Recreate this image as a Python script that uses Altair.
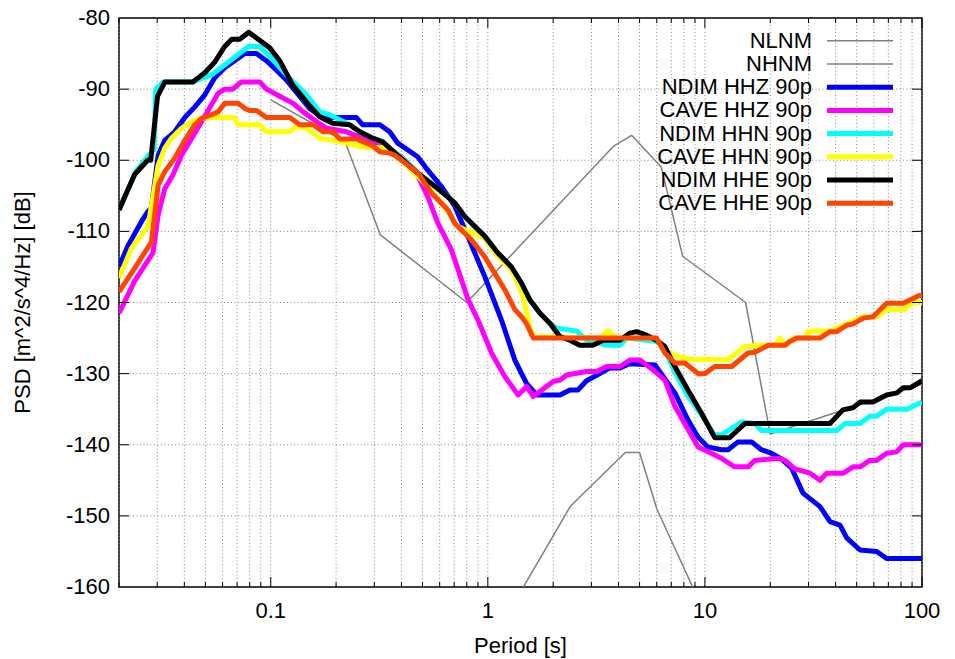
import altair as alt
import pandas as pd

# ---------------- data (period [s], PSD [dB]) ----------------
NLNM_T = [1.24, 2.4, 4.3, 5.0, 6.0, 10.0]
NLNM_DB = [-163.7, -148.65, -141.1, -141.1, -149.0, -163.75]

NHNM_T = [0.1, 0.22, 0.32, 0.8, 3.8, 4.6, 6.3, 7.9, 15.4, 20.0, 100.0]
NHNM_DB = [-91.5, -97.4, -110.5, -120.0, -98.0, -96.5, -101.0, -113.5, -120.0, -138.5, -131.5]

NDIM_HHZ_T = [0.02, 0.022, 0.0254, 0.0272, 0.0282, 0.0303, 0.0325, 0.0361, 0.0402, 0.0447,
              0.0497, 0.0552, 0.0614, 0.0682, 0.0759, 0.0859, 0.0955, 0.106, 0.118, 0.151,
              0.174, 0.248, 0.265, 0.318, 0.353, 0.385, 0.475, 0.529, 0.612, 0.705,
              0.809, 0.969, 1.157, 1.332, 1.43, 1.51, 1.68, 2.15, 2.39, 2.6,
              2.85, 3.28, 3.65, 4.06, 4.5, 5.9, 7.27, 8.35, 9.29, 10.3,
              11.9, 12.8, 14.2, 16.4, 18.2, 20.3, 22.5, 25.1, 28.3, 33.9,
              37.7, 41.9, 45.0, 51.8, 61.8, 68.7, 100.0]
NDIM_HHZ_DB = [-115, -112, -108.6, -107.2, -106.7, -99.3, -97.2, -96, -94, -92.5,
               -90.8, -88.4, -87, -86, -85, -85, -86, -87.3, -88.7, -92.7,
               -94, -94, -95, -95, -96, -97.6, -99.5, -101.4, -103.7, -106.5,
               -110.7, -116.4, -122.5, -128.1, -130, -131.4, -133, -133, -132.3, -132.3,
               -131, -130, -129.2, -129.2, -128.6, -128.8, -132.7, -136.5, -138.9, -140.3,
               -140.7, -140.7, -139.6, -139.6, -140.7, -141.2, -142, -143.3, -146.8, -148.7,
               -150.8, -151.3, -153.1, -154.8, -155, -156, -156]

CAVE_HHZ_T = [0.02, 0.0236, 0.0287, 0.0303, 0.0325, 0.0355, 0.0388, 0.0431, 0.048, 0.0533,
              0.0572, 0.0614, 0.0668, 0.0732, 0.089, 0.0955, 0.110, 0.127, 0.141, 0.163,
              0.181, 0.223, 0.30, 0.40, 0.461, 0.529, 0.588, 0.680, 0.811, 0.902,
              1.04, 1.197, 1.379, 1.51, 1.618, 2.0, 2.15, 2.31, 2.85, 3.17,
              3.52, 4.06, 4.51, 5.02, 5.78, 6.54, 7.27, 8.38, 9.31, 10.7,
              11.9, 13.7, 15.8, 17.0, 21.8, 23.4, 26.0, 30.5, 33.9, 36.4,
              43.4, 48.2, 51.8, 57.5, 61.8, 68.7, 76.4, 82.0, 100.0]
CAVE_HHZ_DB = [-121.5, -117, -113, -107.7, -104, -102, -99.3, -97, -94.6, -92.2,
               -90.6, -90, -90, -89, -89, -90, -91, -92, -93.2, -94.6,
               -95.5, -96, -97.5, -99.5, -101.4, -105.1, -108.8, -112.6, -119.6, -122.5,
               -127.1, -130.4, -133, -131.8, -133.2, -131.1, -130.9, -130.2, -129.7, -129.7,
               -129, -129, -128.1, -128.1, -129.5, -130.9, -134.6, -137.9, -140.3, -141.2,
               -141.9, -143.1, -143.1, -142.2, -141.9, -142.2, -143.4, -144, -145, -144,
               -144, -143.1, -143.1, -142.2, -142.2, -141.2, -141, -140, -140]

NDIM_HHN_T = [0.02, 0.024, 0.027, 0.029, 0.0295, 0.032, 0.044, 0.0461, 0.0533, 0.065,
              0.079, 0.089, 0.099, 0.118, 0.146, 0.168, 0.187, 0.231, 0.257, 0.295,
              0.328, 0.353, 0.415, 0.475, 0.612, 0.705, 0.783, 0.969, 1.11, 1.285,
              1.43, 1.56, 1.74, 1.93, 2.07, 2.56, 2.85, 3.52, 4.06, 4.36,
              6.0, 6.5, 7.2, 8.2, 10.0, 11.0, 11.9, 14.8, 17.0, 18.2,
              40.5, 44.2, 51.8, 57.5, 61.8, 68.7, 85.0, 100.0]
NDIM_HHN_DB = [-107, -101.5, -99.5, -98.5, -90, -89, -89, -88.7, -88, -86,
               -84, -84, -85.4, -88, -90.8, -93.2, -93.6, -95, -96, -96.9,
               -97.4, -98.3, -100, -101.8, -104.4, -106, -107.9, -110.7, -113, -115,
               -117.3, -119.6, -121.5, -122.9, -123.6, -124, -125.3, -126, -126, -125,
               -125.5, -126.5, -129.5, -132.8, -136.5, -138.6, -138.6, -136.8, -137, -138,
               -138, -137, -137, -136, -136, -135, -135, -134]

CAVE_HHN_T = [0.02, 0.0228, 0.0272, 0.0303, 0.0325, 0.0349, 0.0388, 0.0431, 0.048, 0.0533,
              0.0682, 0.0707, 0.089, 0.0955, 0.1224, 0.131, 0.146, 0.168, 0.194, 0.276,
              0.33, 0.40, 0.53, 0.68, 0.725, 0.97, 1.11, 1.29, 1.45, 1.56,
              1.62, 3.3, 3.58, 3.9, 5.98, 6.54, 7.53, 8.69, 12.8, 15.3,
              17.6, 21.0, 22.2, 23.4, 25.5, 29.0, 30.0, 33.9, 37.7, 45.0,
              53.6, 62.0, 68.7, 82.0, 91.0, 100.0]
CAVE_HHN_DB = [-116.6, -112.4, -109.3, -100.7, -98.3, -96.9, -95.5, -94.6, -94.1, -94,
               -94, -95, -95, -96, -96, -95.3, -95.5, -96.9, -97.2, -98.2,
               -98.2, -100, -103.7, -107.9, -109.3, -111, -113.5, -115.5, -119, -123.4,
               -124.8, -125, -124, -125, -125, -126.7, -127.6, -128, -128, -126.2,
               -126, -126, -125, -126, -125, -125, -124, -124, -124, -123,
               -122, -122, -121, -121, -120, -120]

NDIM_HHE_T = [0.02, 0.0236, 0.0271, 0.028, 0.0301, 0.0325, 0.0437, 0.0497, 0.0552, 0.0614,
              0.0661, 0.0719, 0.0792, 0.099, 0.110, 0.126, 0.146, 0.168, 0.193, 0.231,
              0.257, 0.295, 0.328, 0.353, 0.475, 0.612, 0.705, 0.783, 0.969, 1.11,
              1.285, 1.43, 1.56, 1.74, 1.93, 2.15, 2.39, 2.65, 3.05, 3.39,
              4.06, 4.51, 4.84, 5.38, 5.98, 6.54, 7.27, 8.35, 9.66, 11.1,
              13.0, 15.3, 37.7, 43.2, 48.1, 51.8, 59.4, 68.7, 76.7, 81.7,
              88.1, 100.0]
NDIM_HHE_DB = [-107, -102, -100, -100, -91, -89, -89, -87.7, -86.2, -84,
               -83, -83, -82, -84.2, -86, -89.4, -91.8, -93.9, -94.8, -95,
               -96, -96.9, -97.4, -98.3, -101.8, -104.4, -106, -107.9, -110.7, -113,
               -115, -117.3, -119.6, -121.5, -122.9, -124.8, -125.3, -126, -126, -125.3,
               -125.3, -124.3, -124.1, -124.6, -125.3, -126.2, -129, -132.3, -135.6, -139,
               -139, -137, -137, -135.1, -134.8, -134, -134, -133, -132.7, -132,
               -132, -131]

CAVE_HHE_T = [0.02, 0.0236, 0.0282, 0.0303, 0.0325, 0.0361, 0.0402, 0.0447, 0.048, 0.0533,
              0.0572, 0.0614, 0.0707, 0.0759, 0.080, 0.0859, 0.0955, 0.1224, 0.136, 0.157,
              0.174, 0.194, 0.208, 0.248, 0.296, 0.318, 0.353, 0.373, 0.478, 0.550,
              0.656, 0.705, 0.841, 0.969, 1.077, 1.197, 1.332, 1.43, 1.51, 1.618,
              5.98, 6.54, 7.27, 8.09, 9.31, 10.0, 11.1, 13.3, 15.8, 17.0,
              19.6, 23.4, 24.6, 26.5, 33.9, 37.7, 40.5, 45.0, 48.2, 53.6,
              59.6, 68.7, 82.0, 97.0, 100.0]
CAVE_HHE_DB = [-118.5, -115.2, -111.5, -103.5, -101.6, -99.7, -97.2, -95, -94.1, -93.6,
               -93.2, -92, -92, -92.7, -93, -93, -94, -94, -95, -95,
               -96, -96, -97, -97, -98, -98.8, -99, -99.3, -101.8, -104.6,
               -107, -108.9, -111.2, -113.6, -115.9, -118.2, -121, -122, -123, -125,
               -125, -127.1, -128.5, -128.5, -130, -130, -129, -129, -127.1, -127,
               -126, -126, -125.5, -125, -125, -124.1, -124.1, -123.2, -123, -122.2,
               -122, -120.1, -120.1, -119, -119]

SERIES_NAMES = ["NDIM HHZ 90p", "CAVE HHZ 90p", "NDIM HHN 90p",
                "CAVE HHN 90p", "NDIM HHE 90p", "CAVE HHE 90p"]
SERIES_T = [NDIM_HHZ_T, CAVE_HHZ_T, NDIM_HHN_T, CAVE_HHN_T, NDIM_HHE_T, CAVE_HHE_T]
SERIES_DB = [NDIM_HHZ_DB, CAVE_HHZ_DB, NDIM_HHN_DB, CAVE_HHN_DB, NDIM_HHE_DB, CAVE_HHE_DB]
MODEL_NAMES = ["NLNM", "NHNM"]

X_MAJOR = [0.1, 1, 10, 100]
X_LABELS = ["0.1", "1", "10", "100"]
X_MINOR = [0.02, 0.03, 0.04, 0.05, 0.06, 0.07, 0.08, 0.09,
           0.2, 0.3, 0.4, 0.5, 0.6, 0.7, 0.8, 0.9,
           2, 3, 4, 5, 6, 7, 8, 9,
           20, 30, 40, 50, 60, 70, 80, 90]
Y_TICKS = [-160, -150, -140, -130, -120, -110, -100, -90, -80]
Y_LABELS = ["-160", "-150", "-140", "-130", "-120", "-110", "-100", "-90", "-80"]
X_TITLE = "Period [s]"
Y_TITLE = "PSD [m^2/s^4/Hz] [dB]"

# ---------------- styles ----------------
COLORS = ["#0000ff", "#ff00ff", "#00ffff", "#ffff00", "#000000", "#ff4500"]
GREY = "#808080"
GRID = "#8a8a8a"
FONT = "Liberation Sans"
FS = 22
W, H = 803, 569

x_scale = alt.Scale(type="log", domain=[0.02, 100], nice=False)
y_scale = alt.Scale(domain=[-160, -80], nice=False, zero=False)


def X(field):
    return alt.X(field, scale=x_scale, axis=None)


def Y(field):
    return alt.Y(field, scale=y_scale, axis=None)


layers = []

# ---- dotted grid (behind everything) ----
xgrid_df = pd.DataFrame({"T": sorted(X_MINOR + X_MAJOR)})
ygrid_df = pd.DataFrame({"v": Y_TICKS[1:-1]})
layers.append(alt.Chart(xgrid_df).mark_rule(color=GRID, strokeWidth=1, strokeDash=[1, 2.5]).encode(
    x=X("T:Q"), y=alt.value(0), y2=alt.value(H)))
layers.append(alt.Chart(ygrid_df).mark_rule(color=GRID, strokeWidth=1, strokeDash=[1, 2.5]).encode(
    y=Y("v:Q"), x=alt.value(0), x2=alt.value(W)))


# ---- data lines ----
def line_layer(ts, dbs, color, width):
    df = pd.DataFrame({"T": ts, "dB": dbs})
    return alt.Chart(df).mark_line(color=color, strokeWidth=width, clip=True,
                                   strokeJoin="round").encode(x=X("T:Q"), y=Y("dB:Q"))


layers += [line_layer(NLNM_T, NLNM_DB, GREY, 1.5), line_layer(NHNM_T, NHNM_DB, GREY, 1.5)]
for ts, dbs, col in zip(SERIES_T, SERIES_DB, COLORS):
    layers.append(line_layer(ts, dbs, col, 5))

# ---- inward tick marks on all four sides ----
xmaj = pd.DataFrame({"T": X_MAJOR, "lab": X_LABELS})
xmin = pd.DataFrame({"T": X_MINOR})
ytk = pd.DataFrame({"v": Y_TICKS, "lab": Y_LABELS})


def xtick(df, y0, y1):
    return alt.Chart(df).mark_rule(color="black", strokeWidth=1).encode(
        x=X("T:Q"), y=alt.value(y0), y2=alt.value(y1))


def ytick(x0, x1):
    return alt.Chart(ygrid_df).mark_rule(color="black", strokeWidth=1).encode(
        y=Y("v:Q"), x=alt.value(x0), x2=alt.value(x1))


layers += [xtick(xmaj, H, H - 10), xtick(xmin, H, H - 5),
           xtick(xmaj, 0, 10), xtick(xmin, 0, 5),
           ytick(0, 10), ytick(W, W - 10)]

# ---- tick labels and axis titles ----
layers.append(alt.Chart(xmaj).mark_text(font=FONT, fontSize=FS, color="black", align="center",
                                        baseline="alphabetic").encode(
    x=X("T:Q"), y=alt.value(H + 31), text="lab:N"))
layers.append(alt.Chart(ytk).mark_text(font=FONT, fontSize=FS, color="black", align="right",
                                       baseline="middle").encode(
    y=Y("v:Q"), x=alt.value(-9), text="lab:N"))
titles_df = pd.DataFrame({"t": [X_TITLE]})
layers.append(alt.Chart(titles_df).mark_text(font=FONT, fontSize=FS, color="black", align="center",
                                             baseline="alphabetic").encode(
    x=alt.value(W / 2), y=alt.value(H + 66), text="t:N"))
ytitle_df = pd.DataFrame({"t": [Y_TITLE]})
layers.append(alt.Chart(ytitle_df).mark_text(font=FONT, fontSize=FS, color="black", align="center",
                                             baseline="alphabetic", angle=270).encode(
    x=alt.value(-89), y=alt.value(H / 2), text="t:N"))

# ---------------- legend (inside, top right) ----------------
legend_df = pd.DataFrame({"name": MODEL_NAMES + SERIES_NAMES,
                          "idx": list(range(len(MODEL_NAMES) + len(SERIES_NAMES)))})
LEG_TOP, LEG_STEP = 22.7, 23.23
ly = alt.Y("py:Q", scale=None, axis=None)
leg_base = alt.Chart(legend_df).transform_calculate(py=f"{LEG_TOP} + {LEG_STEP} * datum.idx")
leg_text = leg_base.mark_text(align="right", baseline="middle", font=FONT,
                              fontSize=FS, color="black").encode(
    x=alt.value(693), y=ly, text="name:N")
leg_grey = leg_base.transform_filter("datum.idx < 2").mark_rule(
    color=GREY, strokeWidth=1.5).encode(x=alt.value(708), x2=alt.value(774), y=ly)
leg_col = leg_base.transform_filter("datum.idx >= 2").mark_rule(
    strokeWidth=5).encode(
    x=alt.value(708), x2=alt.value(774), y=ly,
    color=alt.Color("name:N", scale=alt.Scale(domain=SERIES_NAMES, range=COLORS), legend=None))
layers += [leg_text, leg_grey, leg_col]

chart = alt.layer(*layers).properties(
    width=W, height=H,
    padding={"left": 119, "top": 18, "right": 33, "bottom": 72},
    autosize=alt.AutoSizeParams(type="none"),
    background="white",
).configure_view(stroke="black", strokeWidth=1.5)

chart.save("out.html", embed_options={"renderer": "svg", "actions": False})
